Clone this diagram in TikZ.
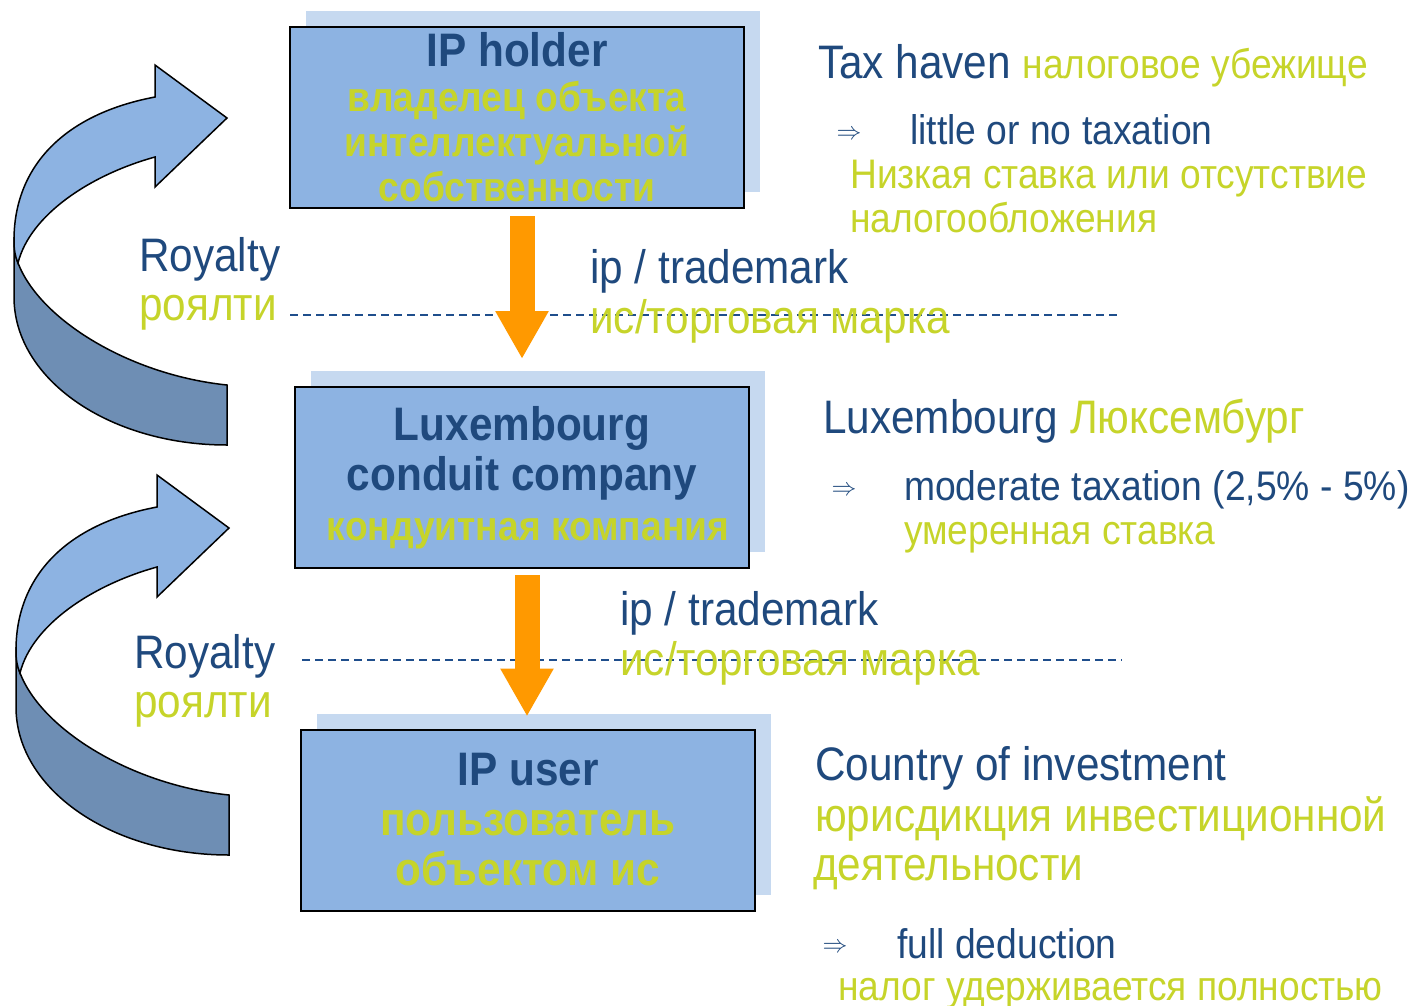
\documentclass[tikz,border=0pt]{standalone}
\usepackage{fontspec}
\setmainfont{Liberation Sans}[FakeStretch=0.9]
\usepackage{tikz}
\usetikzlibrary{arrows.meta,shadows}

\definecolor{navy}{RGB}{31,73,125}
\definecolor{lime}{RGB}{198,212,42}
\definecolor{boxblue}{RGB}{141,179,226}
\definecolor{shadowblue}{RGB}{198,217,240}
\definecolor{ribbondark}{RGB}{110,142,180}
\definecolor{flowcolor}{RGB}{255,153,0}
\definecolor{dashblue}{RGB}{31,78,140}

\begin{document}
\begin{tikzpicture}[x=1pt,y=-1pt,
  box/.style={draw=black, line width=2pt, fill=boxblue, minimum width=454pt, minimum height=181pt,
    align=center, inner sep=0pt, text=lime,
    copy shadow={shadow xshift=16pt, shadow yshift=16pt, fill=shadowblue, draw=none}},
  head/.style={inner sep=0pt, anchor=base west, text=navy, font=\fontsize{47}{50}\selectfont},
  item/.style={inner sep=0pt, anchor=base west, text=navy, font=\fontsize{41.4}{45}\selectfont},
  rus/.style={inner sep=0pt, anchor=base west, text=lime, font=\fontsize{41.3}{44}\selectfont},
  rusbig/.style={rus, font=\fontsize{47}{50}\selectfont},
  implies/.style={inner sep=0pt, text=navy, font=\fontsize{26}{28}\selectfont},
  flow/.style={flowcolor, line width=25pt, -{Triangle[width=50pt,length=48pt]}},
  dashline/.style={dashblue, line width=2pt, dash pattern=on 8pt off 5pt}]
\useasboundingbox (0,0) rectangle (1417,1005);

% curved royalty arrows
\foreach \dx/\dy in {0/0,2/410}{
\begin{scope}[xshift=\dx pt, yshift=-\dy pt]
\filldraw[fill=ribbondark, line width=1.5pt] (18,263) .. controls (15,255) and (14,246) .. (14,237) -- (14,297)
  .. controls (14,379) and (109,445) .. (227,445) -- (227,385) .. controls (130,375) and (40,320) .. (18,263) -- cycle; % front
\filldraw[fill=boxblue, line width=1.5pt] (18,263) .. controls (30,215) and (90,175) .. (155,157) -- (155,187) -- (227,118)
  -- (155,65) -- (155,97) .. controls (60,115) and (14,170) .. (14,240) .. controls (14,250) and (15,256) .. (18,263) -- cycle; % back + head
\end{scope}
}

% dashed lines
\coordinate (d1a) at (290,315);
\coordinate (d1b) at (1118,315);
\coordinate (d2a) at (302,660);
\coordinate (d2b) at (1122,660);
\draw[dashline] (d1a) -- (d1b);
\draw[dashline] (d2a) -- (d2b);

% boxes
\node[box, font=\fontsize{41.3}{45}\selectfont\bfseries] (holder) at (517,117.5) {{\fontsize{47}{45}\selectfont\color{navy}IP holder}\\ владелец объекта\\ интеллектуальной\\ собственности};
\node[box, font=\fontsize{41.3}{50}\selectfont\bfseries] (conduit) at (522,477.5) {{\fontsize{47}{50}\selectfont\color{navy}Luxembourg}\\ {\fontsize{47}{50}\selectfont\color{navy}conduit company}\\ \hspace*{12pt}кондуитная компания};
\node[box, font=\fontsize{47}{50}\selectfont\bfseries] (user) at (528,820) {{\color{navy}IP user}\\ пользователь\\ объектом ис};

% orange arrows
\draw[flow] ([xshift=5pt,yshift=-7pt]holder.south) -- ([yshift=27pt]conduit.north);
\draw[flow] ([xshift=5pt,yshift=-6pt]conduit.south) -- ([xshift=-1pt,yshift=12pt]user.north);

% labels at the arrows
\node[head] (roy1) at (139,271) {Royalty};
\node[rusbig] (roy1ru) at (139,320) {роялти};
\node[head] (roy2) at (134,668) {Royalty};
\node[rusbig] (roy2ru) at (134,717) {роялти};
\node[head] (tm1) at (590,283) {ip / trademark};
\node[rusbig] (tm1ru) at (590,333) {ис/торговая марка};
\node[head] (tm2) at (620,625) {ip / trademark};
\node[rusbig] (tm2ru) at (620,675) {ис/торговая марка};

% right column
\node[head] (haven) at (818,78) {Tax haven {\color{lime}\fontsize{41.3}{44}\selectfont налоговое убежище}};
\node[implies] (imp1) at (849,135) {$\Rightarrow$};
\node[item] (haventx) at (910,144) {little or no taxation};
\node[rus] (haventxru) at (850,188) {Низкая ставка или отсутствие};
\node[rus] (haventxru2) at (850,232) {налогообложения};

\node[head] (lux) at (823,433) {Luxembourg {\color{lime}Люксембург}};
\node[implies] (imp2) at (844,491) {$\Rightarrow$};
\node[item] (luxtx) at (904,500) {moderate taxation (2,5\% - 5\%)};
\node[rus] (luxtxru) at (904,544) {умеренная ставка};

\node[head] (invest) at (815,780) {Country of investment};
\node[rusbig] (investru) at (815,831) {юрисдикция инвестиционной};
\node[rusbig] (investru2) at (813,880) {деятельности};
\node[implies] (imp3) at (835,948) {$\Rightarrow$};
\node[item] (investtx) at (897,958) {full deduction};
\node[rus] (investtxru) at (838,1000) {налог удерживается полностью};
\end{tikzpicture}
\end{document}
